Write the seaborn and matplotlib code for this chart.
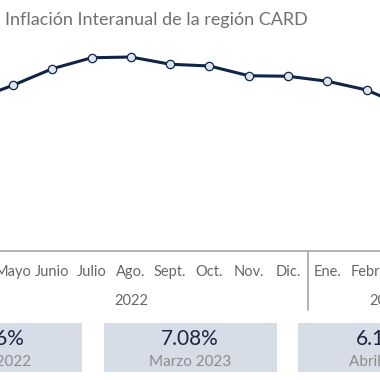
import matplotlib
matplotlib.use("Agg")
import matplotlib.pyplot as plt
from matplotlib.patches import Rectangle
import seaborn as sns
import pandas as pd

sns.set_style("white")
plt.rcParams['font.family'] = ['Lato', 'DejaVu Sans']

# Datos
meses = ["Abril", "Mayo", "Junio", "Julio", "Ago.", "Sept.", "Oct.", "Nov.", "Dic.",
         "Ene.", "Febr.", "Marzo", "Abril"]
anios = ["2022", "2023"]
meses_por_anio = [9, 4]
inflacion = [7.36, 7.95, 8.61, 9.05, 9.08, 8.79, 8.72, 8.33, 8.31, 8.11, 7.76, 7.08, 6.15]

cuadro_valores = ["7.36%", "7.08%", "6.15%"]
cuadro_etiquetas = ["Abril 2022", "Marzo 2023", "Abril 2023"]

df = pd.DataFrame({"idx": range(len(meses)), "mes": meses, "inflacion": inflacion})

W = H = 380
azul = "#0f2447"
gris_txt = "#666666"
gris_linea = "#a6a6a6"

fig = plt.figure(figsize=(3.8, 3.8), dpi=100)

# el gráfico original está recortado: el eje se sale del lienzo por los lados
px_izq, px_der = -45.95, 464.95
px_arriba, px_abajo = 30, 251
ax = fig.add_axes([px_izq / W, 1 - px_abajo / H, (px_der - px_izq) / W, (px_abajo - px_arriba) / H])

sns.lineplot(data=df, x="idx", y="inflacion", ax=ax, color=azul, linewidth=2.2,
             marker="o", markersize=6, markerfacecolor="#dde4f0",
             markeredgecolor=azul, markeredgewidth=0.9, clip_on=False)

ax.set_xlim(-0.5, len(meses) - 0.5)
ax.set_ylim(1.32, 10.16)
ax.set_xlabel("")
ax.set_ylabel("")
ax.set_xticks([])
ax.set_yticks([])
for s in ["top", "left", "right"]:
    ax.spines[s].set_visible(False)
ax.spines["bottom"].set_color(gris_linea)
ax.spines["bottom"].set_linewidth(1.2)

# etiquetas de meses y años
trans = matplotlib.transforms.blended_transform_factory(ax.transData, fig.transFigure)
for i, m in enumerate(meses):
    ax.text(i, 1 - 272 / H, m, transform=trans, ha="center", va="center",
            fontsize=10.5, color=gris_txt, clip_on=False)

inicio = 0
for anio, n in zip(anios, meses_por_anio):
    centro = inicio + (n - 1) / 2
    ax.text(centro, 1 - 301 / H, anio, transform=trans, ha="center", va="center",
            fontsize=10.5, color=gris_txt, clip_on=False)
    if inicio > 0:
        ax.plot([inicio - 0.5, inicio - 0.5], [1 - 251 / H, 1 - 310 / H], transform=trans,
                color=gris_linea, linewidth=1.2, clip_on=False)
    inicio += n

# título
fig.text(5 / W, 1 - 20 / H, "Inflación Interanual de la región CARD", ha="left", va="center",
         fontsize=13, color="#707070")

# cuadros inferiores
box_w, box_h = 173, 49
for k, (val, lab) in enumerate(zip(cuadro_valores, cuadro_etiquetas)):
    x0 = -91 + k * 194.5
    fig.add_artist(Rectangle((x0 / W, 1 - 372 / H), box_w / W, box_h / H,
                             transform=fig.transFigure, facecolor="#d6dde6", edgecolor="none"))
    cx = (x0 + box_w / 2) / W
    fig.text(cx, 1 - 339 / H, val, ha="center", va="center", fontsize=15, color="#1c2641")
    fig.text(cx, 1 - 362 / H, lab, ha="center", va="center", fontsize=11, color="#8c8c8c")

fig.savefig("out.png", dpi=100)
